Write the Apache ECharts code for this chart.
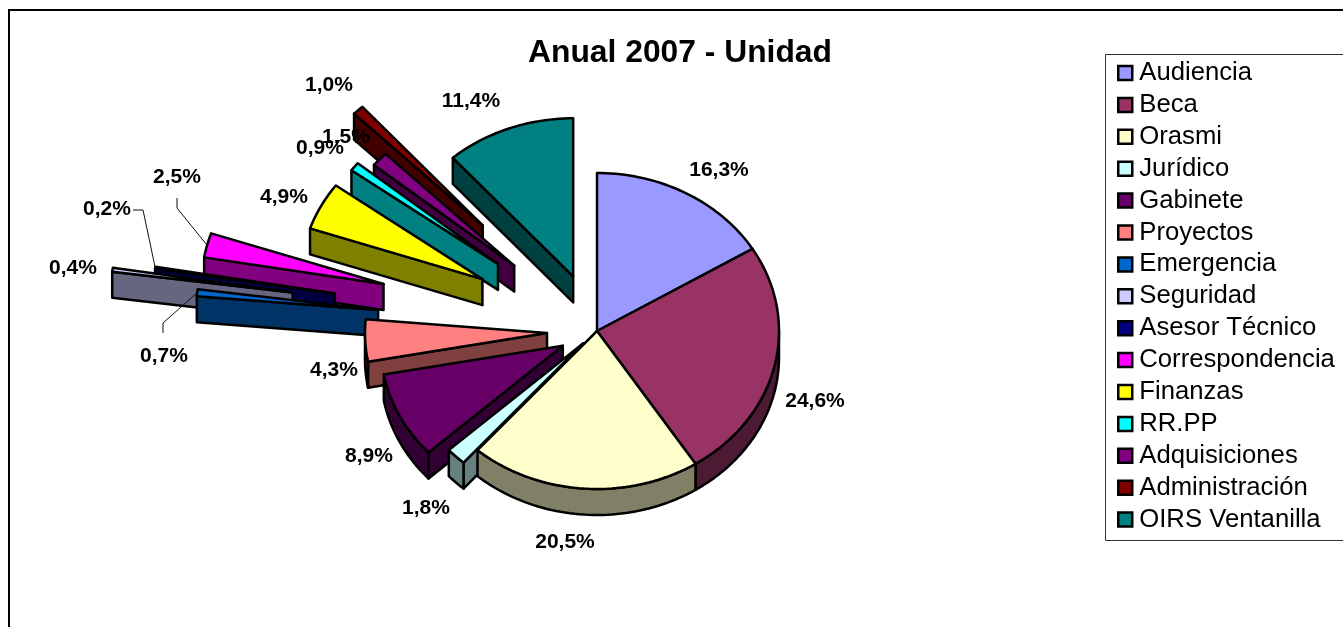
<!DOCTYPE html>
<html>
<head>
<meta charset="utf-8">
<style>html,body{margin:0;padding:0;background:#fff;overflow:hidden}#c{width:1343px;height:627px}</style>
<script src="https://cdn.jsdelivr.net/npm/echarts@6/dist/echarts.min.js"></script>
</head>
<body>
<div id="c"></div>
<script>
var categories = ['Audiencia','Beca','Orasmi','Jurídico','Gabinete','Proyectos','Emergencia','Seguridad','Asesor Técnico','Correspondencia','Finanzas','RR.PP','Adquisiciones','Administración','OIRS Ventanilla'];
var values = [16.3,24.6,20.5,1.8,8.9,4.3,0.7,0.4,0.2,2.5,4.9,0.9,1.5,1.0,11.4];
var explosion = [0,0,0,0.11,0.21,0.275,1.21,1.69,1.46,1.21,0.71,0.69,0.615,0.917,0.37];
var colors = ['#9999FF','#993366','#FFFFCC','#CCFFFF','#660066','#FF8080','#0066CC','#CCCCFF','#000080','#FF00FF','#FFFF00','#00FFFF','#800080','#800000','#008080'];
var sideColors = ['#4D4D80','#4D1A33','#808066','#668080','#330033','#804040','#003366','#666680','#000040','#800080','#808000','#008080','#400040','#400000','#004040'];
var labelCentres = [[719,170],[815,401],[565,542],[426,508],[369,456],[334,370],[164,356],[73,268],[107,209],[177,177],[284,197],[320,148],[346,137],[329,85],[471,101]];
var leaders = {6:[[163,333],[163,323]], 8:[[133,210],[143,210]], 9:[[177,198],[177,208]]};
var drawOrder = [14,13,12,11,10,9,8,7,6,5,4,3,0,1,2];

var CX = 597, CY = 331, RX = 182, RY = 158, DEPTH = 26;
var RAD = Math.PI/180;
var starts = [], acc = 0;
values.forEach(function(v){ starts.push(acc); acc += v; });

function geom(i){
  // values are percentages of the full circle; the last slice closes it
  var a0 = starts[i]*3.6, a1 = i === values.length-1 ? 360 : (starts[i]+values[i])*3.6, mid = (a0+a1)/2;
  var e = explosion[i];
  return {a0:a0,a1:a1,mid:mid,
    ax: CX + RX*e*Math.sin(mid*RAD),
    ay: CY - RY*e*Math.cos(mid*RAD)};
}
function rimPoint(g,a,dy){
  return [g.ax + RX*Math.sin(a*RAD), g.ay - RY*Math.cos(a*RAD) + (dy||0)];
}
function arcPoints(g,a0,a1,dy){
  var pts = [], n = Math.max(2,Math.ceil((a1-a0)/1.5));
  for(var k=0;k<=n;k++) pts.push(rimPoint(g,a0+(a1-a0)*k/n,dy));
  return pts;
}
function poly(points,fill){
  return {type:'polygon',silent:true,shape:{points:points},
    style:{fill:fill,stroke:'#000',lineWidth:2.5,lineJoin:'round'}};
}
// A straight cut wall shows when it lies on the lower side of the top face
function wallVisible(g,a,other){
  var p = rimPoint(g,a), q = rimPoint(g,other);
  var cross = (p[0]-g.ax)*(q[1]-g.ay)-(p[1]-g.ay)*(q[0]-g.ax);
  var crossDown = (p[0]-g.ax)*DEPTH;
  return cross*crossDown < 0;
}
function sliceRender(i){
  return function(params,api){
    var g = geom(i), ch = [], side = sideColors[i];
    var apex = [g.ax,g.ay], apexLow = [g.ax,g.ay+DEPTH];
    [[g.a0,(g.a0+g.a1)/2],[g.a1,(g.a0+g.a1)/2]].forEach(function(w){
      if(wallVisible(g,w[0],w[1])){
        ch.push(poly([apex,rimPoint(g,w[0]),rimPoint(g,w[0],DEPTH),apexLow],side));
      }
    });
    var lo = Math.max(g.a0,90), hi = Math.min(g.a1,270);
    if(hi>lo){
      ch.push(poly(arcPoints(g,lo,hi,0).concat(arcPoints(g,lo,hi,DEPTH).reverse()),side));
    }
    ch.push(poly([apex].concat(arcPoints(g,g.a0,g.a1,0)),colors[i]));
    return {type:'group',children:ch};
  };
}
function labelRender(params,api){
  var i = params.dataIndex, v = api.value(0), ch = [];
  if(leaders[i]){
    var g = geom(i), end = rimPoint(g,g.mid);
    ch.push({type:'polyline',silent:true,shape:{points:leaders[i].concat([end])},
      style:{fill:'none',stroke:'#111',lineWidth:1}});
  }
  ch.push({type:'text',silent:true,style:{
    text:v.toFixed(1).replace('.',',')+'%',
    x:labelCentres[i][0],y:labelCentres[i][1],
    textAlign:'center',textVerticalAlign:'middle',
    font:'bold 21px "Liberation Sans"',fill:'#000'}});
  return {type:'group',children:ch};
}
var series = categories.map(function(name,i){
  return {type:'custom',name:name,coordinateSystem:'none',
    z:10+drawOrder.indexOf(i),
    itemStyle:{color:colors[i]},
    data:[[values[i]]],renderItem:sliceRender(i),animation:false};
});
series.push({type:'custom',name:'Etiquetas',coordinateSystem:'none',z:50,
  data:values.map(function(v){return [v];}),renderItem:labelRender,animation:false});

var chart = echarts.init(document.getElementById('c'),null,{renderer:'canvas'});
chart.setOption({
  animation:false,
  backgroundColor:'#fff',
  title:{text:'Anual 2007 - Unidad',left:675,top:48,textAlign:'center',textVerticalAlign:'middle',
    textStyle:{fontFamily:'Liberation Sans',fontWeight:'bold',fontSize:31.8,color:'#000'}},
  legend:{data:categories,orient:'vertical',left:1117,top:60,padding:0,
    itemWidth:14,itemHeight:14,itemGap:5.9,icon:'rect',selectedMode:false,
    itemStyle:{borderColor:'#000',borderWidth:2.5},
    textStyle:{fontFamily:'Liberation Sans',fontSize:25.7,color:'#000',padding:[0,0,0,2]}},
  tooltip:{show:false},
  graphic:[
    {type:'rect',silent:true,z:-1,shape:{x:9,y:10,width:1400,height:700},style:{fill:'#fff',stroke:'#000',lineWidth:2}},
    {type:'rect',silent:true,z:0,shape:{x:1105.5,y:54.5,width:300,height:486},style:{fill:'#fff',stroke:'#333',lineWidth:1}}
  ],
  series:series
});
</script>
</body>
</html>
